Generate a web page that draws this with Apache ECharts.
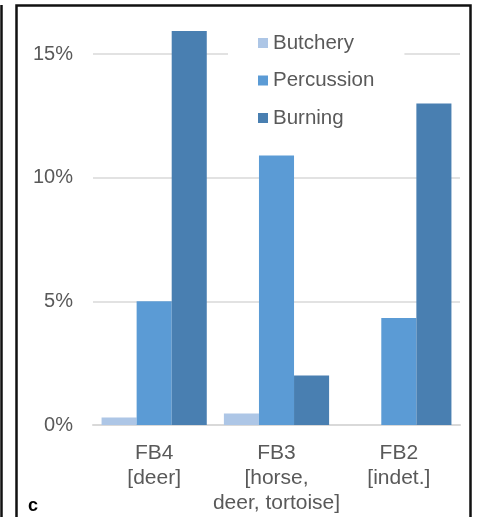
<!DOCTYPE html>
<html><head><meta charset="utf-8">
<script src="https://cdn.jsdelivr.net/npm/echarts@6/dist/echarts.min.js"></script>
<style>html,body{margin:0;padding:0;background:#fff}#c{width:479px;height:517px}</style>
</head><body><div id="c"></div>
<script>
var categories = ['FB4\n[deer]', 'FB3\n[horse,\ndeer, tortoise]', 'FB2\n[indet.]'];
var seriesNames = ['Butchery', 'Percussion', 'Burning'];
var butchery = [0.3, 0.47, 0];
var percussion = [5.0, 10.9, 4.33];
var burning = [15.93, 2.0, 13.0];
var yTicks = [0, 5, 10, 15];

var colors = ['#adc6e6', '#5b9bd5', '#497fb1'];
var chart = echarts.init(document.getElementById('c'), null, {renderer: 'canvas'});
var font = 'Liberation Sans, Arial, sans-serif';
chart.setOption({
  animation: false,
  color: colors,
  textStyle: {fontFamily: font},
  grid: {left: 93, right: 19, top: 29.3, bottom: 92, containLabel: false},
  legend: {
    orient: 'vertical', left: 228, top: 27,
    padding: [5, 30, 5, 30], backgroundColor: '#fff',
    icon: 'rect', itemWidth: 10, itemHeight: 10, itemGap: 15.5,
    textStyle: {fontSize: 20.5, color: '#595959', fontFamily: font, lineHeight: 22},
    data: seriesNames
  },
  xAxis: {
    type: 'category', data: categories,
    axisLine: {lineStyle: {color: '#d9d9d9', width: 2}},
    axisTick: {show: false},
    axisLabel: {fontSize: 21, color: '#595959', lineHeight: 25, margin: 16, fontFamily: font, interval: 0}
  },
  yAxis: {
    type: 'value', min: 0, max: 16, interval: 5,
    axisLine: {show: false}, axisTick: {show: false},
    axisLabel: {fontSize: 20, color: '#595959', margin: 20, fontFamily: font, showMaxLabel: false,
      formatter: function (v) { return yTicks.indexOf(v) >= 0 ? v + '%' : ''; }},
    splitLine: {showMaxLine: false, lineStyle: {color: '#d9d9d9', width: 1.5}}
  },
  series: [
    {name: seriesNames[0], type: 'bar', data: butchery, barGap: '0%', barCategoryGap: '14%'},
    {name: seriesNames[1], type: 'bar', data: percussion, barGap: '0%', barCategoryGap: '14%'},
    {name: seriesNames[2], type: 'bar', data: burning, barGap: '0%', barCategoryGap: '14%'}
  ],
  graphic: [
    {type: 'rect', shape: {x: 16.5, y: 5.5, width: 454, height: 520}, style: {fill: 'none', stroke: '#111', lineWidth: 2.5}, z: 100},
    {type: 'line', shape: {x1: 1.5, y1: 5, x2: 1.5, y2: 517}, style: {stroke: '#111', lineWidth: 2.5}, z: 100},
    {type: 'text', left: 28, top: 497, style: {text: 'c', font: 'bold 18px ' + font, fill: '#000'}, z: 100}
  ]
});
</script></body></html>
